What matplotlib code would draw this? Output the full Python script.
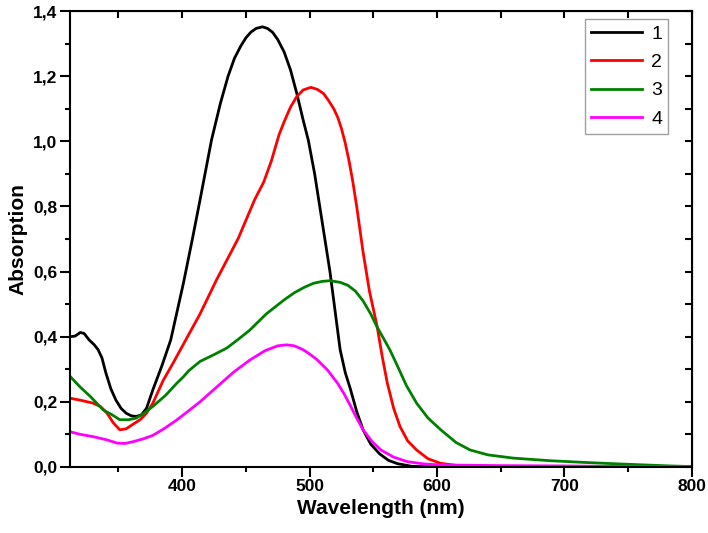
import matplotlib
matplotlib.use("Agg")
import matplotlib.pyplot as plt
from matplotlib.ticker import MultipleLocator, FuncFormatter

plt.rcParams.update({"font.family": ["Liberation Sans", "DejaVu Sans"]})

# spectra (wavelength nm, absorption)
wl1 = [312, 316, 320, 323, 327, 331, 334, 337, 340, 344, 348, 352, 356, 360, 364, 368, 372, 377,
       384, 391, 401, 408, 414, 423, 430, 436, 441, 446, 450, 454, 458, 463, 467, 471, 475, 480,
       485, 490, 495, 499, 504, 508, 512, 516, 520, 524, 528, 532, 537, 542, 548, 555, 562, 569,
       580, 600, 700, 800]
ab1 = [0.400, 0.402, 0.413, 0.410, 0.390, 0.375, 0.360, 0.335, 0.290, 0.240, 0.205, 0.180, 0.165,
       0.157, 0.155, 0.160, 0.180, 0.237, 0.310, 0.390, 0.565, 0.700, 0.820, 1.004, 1.117, 1.200,
       1.255, 1.293, 1.318, 1.336, 1.347, 1.352, 1.347, 1.335, 1.313, 1.275, 1.220, 1.147, 1.065,
       1.004, 0.900, 0.800, 0.700, 0.600, 0.480, 0.360, 0.290, 0.240, 0.170, 0.114, 0.070, 0.040,
       0.020, 0.010, 0.002, 0.0, 0.0, 0.0]

wl2 = [312, 320, 330, 336, 341, 346, 351, 356, 361, 367, 372, 377, 385, 393, 400, 414, 427, 444,
       457, 464, 470, 476, 480, 485, 490, 495, 501, 506, 511, 515, 519, 522, 525, 528, 531, 534,
       537, 542, 547, 553, 557, 561, 566, 571, 577, 584, 593, 603, 620, 700, 800]
ab2 = [0.211, 0.205, 0.196, 0.185, 0.165, 0.135, 0.114, 0.117, 0.130, 0.145, 0.165, 0.196, 0.265,
       0.320, 0.370, 0.470, 0.575, 0.702, 0.822, 0.875, 0.940, 1.020, 1.060, 1.105, 1.138, 1.158,
       1.166, 1.160, 1.147, 1.125, 1.100, 1.075, 1.040, 0.995, 0.940, 0.875, 0.800, 0.660, 0.540,
       0.432, 0.340, 0.258, 0.180, 0.124, 0.080, 0.052, 0.025, 0.011, 0.002, 0.0, 0.0]

wl3 = [312, 320, 328, 338, 345, 351, 358, 364, 370, 377, 387, 396, 401, 405, 414, 425, 435, 445,
       453, 466, 480, 488, 496, 503, 510, 516, 524, 530, 536, 542, 548, 553, 563, 569, 576, 584,
       593, 603, 615, 626, 640, 660, 689, 720, 744, 770, 783, 800]
ab3 = [0.278, 0.245, 0.216, 0.175, 0.160, 0.145, 0.145, 0.150, 0.165, 0.186, 0.220, 0.258, 0.277,
       0.295, 0.324, 0.345, 0.365, 0.395, 0.420, 0.470, 0.513, 0.535, 0.552, 0.564, 0.570, 0.572,
       0.567, 0.558, 0.540, 0.510, 0.470, 0.430, 0.360, 0.310, 0.250, 0.196, 0.150, 0.114, 0.075,
       0.052, 0.037, 0.027, 0.019, 0.013, 0.009, 0.005, 0.003, 0.001]

wl4 = [312, 320, 330, 341, 349, 355, 362, 370, 377, 386, 396, 401, 414, 427, 440, 453, 465, 475,
       482, 488, 495, 500, 506, 514, 522, 527, 531, 537, 542, 549, 556, 566, 577, 590, 603, 650,
       700, 750, 800]
ab4 = [0.108, 0.100, 0.093, 0.083, 0.073, 0.072, 0.078, 0.087, 0.097, 0.118, 0.145, 0.160, 0.200,
       0.245, 0.290, 0.328, 0.357, 0.372, 0.375, 0.372, 0.360, 0.347, 0.329, 0.298, 0.257, 0.225,
       0.196, 0.150, 0.114, 0.078, 0.052, 0.030, 0.016, 0.009, 0.006, 0.004, 0.003, 0.001, 0.0]

labels = ["1", "2", "3", "4"]
colors = ["#000000", "#ff0000", "#008000", "#ff00ff"]

fig = plt.figure(figsize=(7.08, 5.33), dpi=100)
ax = fig.add_axes([0.099, 0.124, 0.878, 0.855])

for wl, ab, lab, c in zip([wl1, wl2, wl3, wl4], [ab1, ab2, ab3, ab4], labels, colors):
    ax.plot(wl, ab, color=c, lw=2.0, label=lab, solid_joinstyle="round")

ax.set_xlim(312, 800)
ax.set_ylim(0, 1.4)
ax.xaxis.set_major_locator(MultipleLocator(100))
ax.xaxis.set_minor_locator(MultipleLocator(50))
ax.yaxis.set_major_locator(MultipleLocator(0.2))
ax.yaxis.set_minor_locator(MultipleLocator(0.1))
ax.yaxis.set_major_formatter(FuncFormatter(lambda v, p: f"{v:.1f}".replace(".", ",")))
ax.tick_params(which="major", direction="out", length=7, width=1.5, pad=2,
               labelsize=12.5)
ax.tick_params(which="minor", direction="out", length=3.5, width=1.5)
for t in ax.get_xticklabels() + ax.get_yticklabels():
    t.set_fontweight("bold")
for s in ax.spines.values():
    s.set_linewidth(1.5)

# mirrored inward ticks on top and right
top = ax.secondary_xaxis("top")
top.xaxis.set_major_locator(MultipleLocator(50))
top.tick_params(direction="in", length=5, width=1.5, labeltop=False)
right = ax.secondary_yaxis("right")
right.yaxis.set_major_locator(MultipleLocator(0.1))
right.tick_params(direction="in", length=5, width=1.5, labelright=False)

ax.set_xlabel("Wavelength (nm)", fontsize=15, fontweight="bold", labelpad=3)
ax.set_ylabel("Absorption", fontsize=15, fontweight="bold", labelpad=4)

leg = ax.legend(loc="upper right", bbox_to_anchor=(0.962, 0.982), fontsize=14,
                frameon=True, fancybox=False, handlelength=2.6, handletextpad=0.5,
                labelspacing=0.55, borderpad=0.3, borderaxespad=0)
leg.get_frame().set_edgecolor("#888888")
leg.get_frame().set_linewidth(1.0)

fig.savefig("out.png", dpi=100)
